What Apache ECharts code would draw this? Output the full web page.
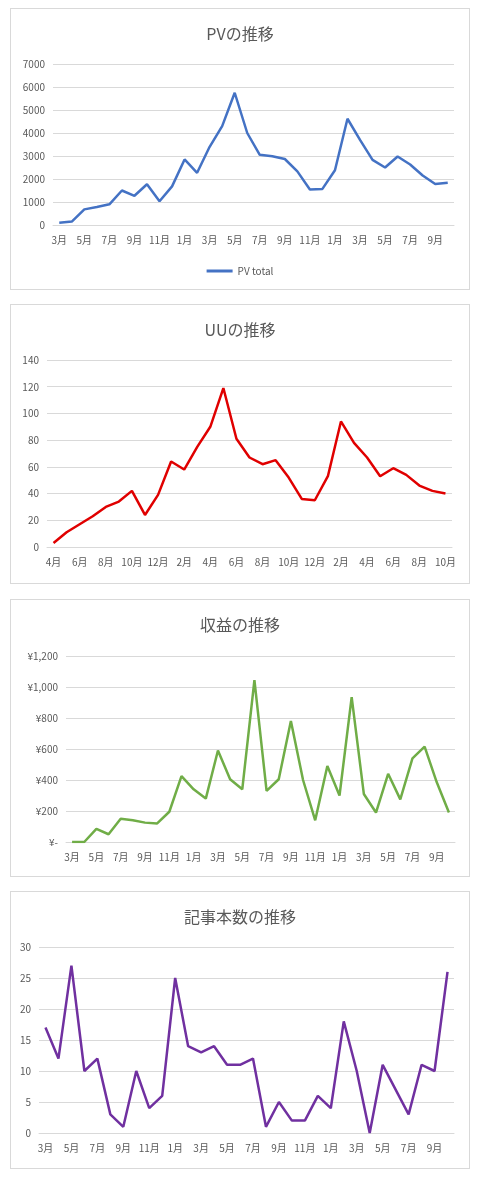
<!DOCTYPE html>
<html><head><meta charset="utf-8">
<script src="https://cdn.jsdelivr.net/npm/echarts@6/dist/echarts.min.js"></script>
<style>
body{margin:0;background:#fff;font-family:"Noto Sans CJK JP",sans-serif}
.box{position:absolute;left:10px;width:460px;border:1px solid #d9d9d9;box-sizing:border-box;background:#fff}
</style></head><body>
<div id="c1" class="box" style="top:8px;height:282px"></div>
<div id="c2" class="box" style="top:304px;height:280px"></div>
<div id="c3" class="box" style="top:599px;height:278px"></div>
<div id="c4" class="box" style="top:891px;height:278px"></div>
<script>
const monthsMar = ["3月","4月","5月","6月","7月","8月","9月","10月","11月","12月","1月","2月","3月","4月","5月","6月","7月","8月","9月","10月","11月","12月","1月","2月","3月","4月","5月","6月","7月","8月","9月","10月"];
const monthsApr = monthsMar.slice(1);
const pvValues = [100,150,680,780,900,1500,1270,1770,1030,1680,2850,2270,3400,4300,5750,4000,3050,2990,2870,2330,1540,1570,2380,4620,3700,2830,2500,2980,2630,2150,1780,1840];
const uuValues = [3,11,17,23,30,34,42,24,39,64,58,75,90,119,81,67,62,65,52,36,35,53,94,78,67,53,59,54,46,42,40];
const revenueValues = [0,0,85,50,150,140,125,120,195,425,340,280,590,405,340,1045,330,405,780,400,140,490,300,935,310,190,440,275,540,615,385,190];
const articleValues = [17,12,27,10,12,3,1,10,4,6,25,14,13,14,11,11,12,1,5,2,2,6,4,18,10,0,11,7,3,11,10,26];

const font = '"Noto Sans CJK JP", sans-serif';
function make(id, title, cats, data, color, grid, yAxis, legend) {
  const c = echarts.init(document.getElementById(id));
  c.setOption({
    animation:false,
    title:{text:title,left:'center',top:12,textStyle:{fontFamily:font,fontSize:16,fontWeight:'normal',color:'#595959'}},
    legend: legend ? {show:true,bottom:8,left:'center',itemWidth:26,itemHeight:3,icon:'rect',textStyle:{fontFamily:font,fontSize:10,color:'#595959'},data:[legend]} : {show:false},
    grid:grid,
    xAxis:{type:'category',data:cats,boundaryGap:true,axisTick:{show:false},axisLine:{lineStyle:{color:'#d9d9d9'}},
      axisLabel:{interval:1,color:'#595959',fontSize:10,fontFamily:font,margin:10}},
    yAxis:Object.assign({type:'value',axisLine:{show:false},axisTick:{show:false},splitLine:{lineStyle:{color:'#d9d9d9'}},
      axisLabel:{color:'#595959',fontSize:10,fontFamily:font,formatter:v=>String(v)}},yAxis),
    series:[{name:legend||title,type:'line',data:data,symbol:'none',lineStyle:{color:color,width:2.5},itemStyle:{color:color}}]
  });
}
make('c1','PVの推移',monthsMar,pvValues,'#4472c4',{left:42,right:15,top:55,bottom:64},{min:0,max:7000,interval:1000},'PV total');
make('c2','UUの推移',monthsApr,uuValues,'#e00000',{left:36,right:17,top:55,bottom:36},{min:0,max:140,interval:20},null);
make('c3','収益の推移',monthsMar,revenueValues,'#70ad47',{left:55,right:14,top:56,bottom:34},{min:0,max:1200,interval:200,
  axisLabel:{color:'#595959',fontSize:10,fontFamily:font,formatter:v=>v===0?'¥-':'¥'+v.toLocaleString('en-US')}},null);
make('c4','記事本数の推移',monthsMar,articleValues,'#7030a0',{left:28,right:15,top:55,bottom:35},{min:0,max:30,interval:5},null);
</script></body></html>
